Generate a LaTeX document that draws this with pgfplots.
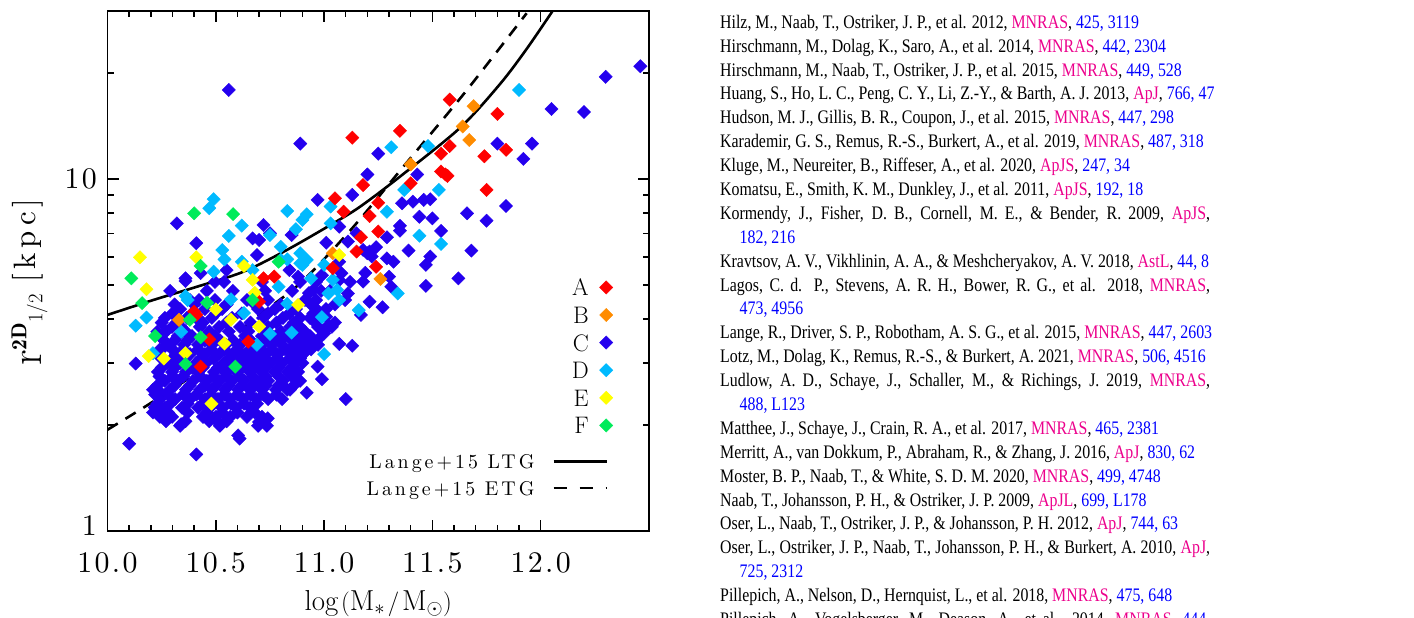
\documentclass[border=0pt]{standalone}
\usepackage{fontspec}
\usepackage{xcolor}
\usepackage{pgfplots}
\pgfplotsset{compat=1.18}
\newfontfamily\reffont{Liberation Serif}[FakeStretch=0.83]
\newfontfamily\lmwide{lmroman10-regular.otf}[LetterSpace=15]
\newfontfamily\lmtick{lmroman10-regular.otf}[LetterSpace=8]
\definecolor{cA}{RGB}{255,0,0}
\definecolor{cB}{RGB}{255,140,0}
\definecolor{cC}{RGB}{36,0,238}
\definecolor{cD}{RGB}{0,186,255}
\definecolor{cE}{RGB}{255,255,0}
\definecolor{cF}{RGB}{0,235,90}
\newcommand\J[1]{\textcolor{magenta}{#1}}
\newcommand\V[1]{\textcolor{blue}{#1}}
% one reference line: plain, justified to the column width, or a continuation
\newcommand\refline[2]{\node[anchor=base west,inner sep=0pt] at (720bp,{589.7bp-#1*23.89bp}) {\fontsize{19.2}{24}\reffont #2};}
\newcommand\refjust[2]{\node[anchor=base west,inner sep=0pt] at (720bp,{589.7bp-#1*23.89bp}) {\fontsize{19.2}{24}\reffont\hbox to 490bp{#2}};}
\newcommand\refcont[2]{\node[anchor=base west,inner sep=0pt] at (739.5bp,{589.7bp-#1*23.89bp}) {\fontsize{19.2}{24}\reffont #2};}
\pgfplotsset{dia/.style={only marks, mark=square*, mark size=4.7bp, mark options={rotate=45}}}
\begin{document}
\begin{tikzpicture}
\path[use as bounding box] (0bp,0bp) rectangle (1414bp,618bp);

\begin{axis}[
  at={(107.5bp,87bp)}, anchor=south west,
  width=541.5bp, height=520bp, scale only axis,
  xmin=10, xmax=12.5, ymin=1, ymax=30, ymode=log,
  axis on top,
  xtick={10,10.5,11,11.5,12}, xticklabels={10.0,10.5,11.0,11.5,12.0},
  minor x tick num=4,
  ytick={1,10}, yticklabels={\raisebox{10bp}{1},10},
  minor ytick={2,3,4,5,6,7,8,9,20},
  tick align=inside,
  major tick length=11bp, minor tick length=6.5bp,
  every tick/.style={black, line width=1.4bp},
  axis line style={black, line width=1.8bp},
  ticklabel style={font=\fontsize{30}{30}\lmtick, inner sep=0pt},
  xticklabel style={anchor=base, yshift=-41bp},
  yticklabel style={anchor=east, xshift=-10.5bp},
  xlabel={$\log\mkern2mu(\mathrm{M}_*\mkern2mu/\mkern2mu\mathrm{M}_\odot)$},
  xlabel style={at={(axis description cs:0.5,-0.1538)}, anchor=base, font=\fontsize{29}{29}\selectfont, inner sep=0pt},
  ylabel={\raisebox{-6bp}{\fontsize{44}{44}\selectfont$\mathrm{r}$}$^{\mathbf{2D}}{}_{1/2}$\hspace{0.35em}{\fontsize{31}{31}\lmwide[kpc]}},
  ylabel style={at={(axis description cs:-0.133,0.478)}, anchor=base, font=\fontsize{31}{31}\selectfont, inner sep=0pt},
  legend plot pos=right, legend cell align=right,
  legend style={at={(axis description cs:0.9332,0.4848)}, anchor=north east,
    draw=none, fill=none, inner sep=0pt, outer sep=0pt,
    font=\fontsize{24}{24}\selectfont, row sep=10.6bp, column sep=10.8bp,
    nodes={inner sep=0pt, text height=17bp, text depth=0pt}},
]
% C
\addplot[dia, cC, forget plot] coordinates {
(12.46,20.9)(12.30,19.5)(12.05,15.8)(12.20,15.5)(10.56,17.9)(10.89,12.6)(11.25,11.8)(11.80,12.6)(11.96,12.6)(11.92,11.4)
(11.43,10.3)(11.20,10.3)(11.36,8.53)(11.41,8.62)(11.46,8.72)(11.49,8.76)(11.84,8.38)(11.44,7.81)(11.50,7.73)(11.66,7.99)
(11.75,7.61)(11.35,7.36)(11.35,7.13)(11.29,6.83)(11.54,7.12)(11.39,6.26)(11.68,6.26)(11.24,6.40)(11.20,6.15)(11.22,6.02)
(11.29,5.95)(11.32,5.82)(11.49,6.02)(11.47,5.70)(11.62,5.22)(11.30,5.28)(11.31,4.94)(11.47,4.97)(11.19,5.41)(11.18,5.11)
(10.97,8.72)(11.13,9.01)(11.07,7.32)(10.72,7.40)(10.75,7.01)(10.70,6.71)(10.67,6.78)(10.85,6.93)(10.32,7.48)(10.41,6.57)
(10.55,5.51)(10.69,6.08)(11.01,6.59)(11.11,6.64)(11.15,7.01)(11.18,6.29)(11.21,6.22)(11.07,5.82)(10.36,5.22)(10.43,5.40)
(11.08,5.40)(11.11,4.73)(11.21,4.48)(11.27,4.32)(11.17,4.11)(10.95,4.84)(10.97,4.24)(11.01,4.06)(11.00,3.64)(11.07,3.40)
(11.13,3.36)(10.99,2.70)(11.10,2.37)(10.92,2.47)(10.74,2.09)(10.70,2.04)(10.61,1.83)(10.80,2.60)(10.83,2.52)(10.71,2.69)
(10.67,2.60)(10.86,2.81)(10.52,2.00)(10.50,2.07)(10.34,2.01)(10.10,1.77)(10.41,1.65)(10.24,2.18)(10.26,2.11)(10.22,2.25)
(10.24,2.49)(10.13,2.99)(10.23,3.68)(10.24,3.27)(10.36,5.13)(11.07,5.16)(10.99,5.33)(10.84,5.51)(10.88,5.28)(10.93,4.74)
(11.02,3.84)(10.94,3.55)(10.97,3.49)(10.84,3.27)(10.89,3.12)(10.92,3.27)(10.90,3.00)(10.97,2.93)
(10.496,5.10)(10.538,5.10)(10.713,5.10)(10.889,5.10)(10.963,5.10)(11.120,5.10)
(10.289,4.81)(10.459,4.81)(10.579,4.81)(10.727,4.81)(10.852,4.81)(10.986,4.81)(11.027,4.81)
(10.381,4.53)(10.422,4.53)(10.496,4.53)(10.644,4.53)(10.741,4.53)(10.912,4.53)(10.963,4.53)(11.097,4.53)
(10.31,4.40)(10.40,4.40)(10.55,4.40)(10.68,4.40)(10.80,4.40)(10.94,4.40)(11.05,4.40)
(10.335,4.27)(10.450,4.27)(10.529,4.27)(10.695,4.27)(10.773,4.27)(10.870,4.27)(11.009,4.27)
(10.30,4.15)(10.39,4.15)(10.50,4.15)(10.62,4.15)(10.74,4.15)(10.84,4.15)(10.95,4.15)
(10.265,4.03)(10.367,4.03)(10.409,4.03)(10.482,4.03)(10.575,4.03)(10.718,4.03)(10.810,4.03)(10.889,4.03)(10.935,4.03)
(10.25,3.91)(10.32,3.91)(10.44,3.91)(10.55,3.91)(10.66,3.91)(10.78,3.91)(10.86,3.91)(10.96,3.91)(11.05,3.91)
(10.298,3.80)(10.339,3.80)(10.427,3.80)(10.515,3.80)(10.612,3.80)(10.741,3.80)(10.843,3.80)(10.889,3.80)(10.972,3.80)(11.036,3.80)
(10.27,3.69)(10.36,3.69)(10.47,3.69)(10.56,3.69)(10.65,3.69)(10.74,3.69)(10.80,3.69)(10.86,3.69)(10.91,3.69)(11.00,3.69)
(10.242,3.58)(10.325,3.58)(10.390,3.58)(10.455,3.58)(10.496,3.58)(10.635,3.58)(10.713,3.58)(10.778,3.58)(10.820,3.58)(10.889,3.58)(10.935,3.58)
(10.26,3.48)(10.31,3.48)(10.37,3.48)(10.45,3.48)(10.52,3.48)(10.58,3.48)(10.66,3.48)(10.74,3.48)(10.79,3.48)(10.85,3.48)(10.90,3.48)(10.95,3.48)
(10.279,3.38)(10.353,3.38)(10.418,3.38)(10.482,3.38)(10.547,3.38)(10.612,3.38)(10.713,3.38)(10.759,3.38)(10.806,3.38)(10.870,3.38)(10.916,3.38)(10.972,3.38)
(10.25,3.28)(10.30,3.28)(10.35,3.28)(10.42,3.28)(10.48,3.28)(10.54,3.28)(10.60,3.28)(10.66,3.28)(10.71,3.28)(10.76,3.28)(10.82,3.28)(10.88,3.28)(10.94,3.28)
(10.316,3.18)(10.381,3.18)(10.450,3.18)(10.515,3.18)(10.575,3.18)(10.635,3.18)(10.681,3.18)(10.732,3.18)(10.787,3.18)(10.852,3.18)(10.903,3.18)
(10.25,3.09)(10.30,3.09)(10.36,3.09)(10.43,3.09)(10.49,3.09)(10.56,3.09)(10.61,3.09)(10.67,3.09)(10.72,3.09)(10.78,3.09)(10.84,3.09)(10.89,3.09)
(10.275,3.00)(10.335,3.00)(10.409,3.00)(10.455,3.00)(10.538,3.00)(10.593,3.00)(10.649,3.00)(10.695,3.00)(10.750,3.00)(10.806,3.00)(10.866,3.00)
(10.25,2.91)(10.31,2.91)(10.39,2.91)(10.44,2.91)(10.51,2.91)(10.57,2.91)(10.62,2.91)(10.68,2.91)(10.73,2.91)(10.79,2.91)(10.85,2.91)
(10.233,2.83)(10.298,2.83)(10.362,2.83)(10.418,2.83)(10.492,2.83)(10.542,2.83)(10.598,2.83)(10.658,2.83)(10.713,2.83)(10.773,2.83)(10.833,2.83)(10.880,2.83)
(10.24,2.75)(10.30,2.75)(10.35,2.75)(10.43,2.75)(10.49,2.75)(10.55,2.75)(10.61,2.75)(10.67,2.75)(10.73,2.75)(10.79,2.75)(10.85,2.75)
(10.265,2.67)(10.325,2.67)(10.395,2.67)(10.459,2.67)(10.519,2.67)(10.575,2.67)(10.630,2.67)(10.686,2.67)(10.741,2.67)(10.810,2.67)(10.889,2.67)
(10.23,2.59)(10.31,2.59)(10.38,2.59)(10.45,2.59)(10.50,2.59)(10.56,2.59)(10.62,2.59)(10.68,2.59)(10.73,2.59)(10.79,2.59)(10.86,2.59)
(10.210,2.52)(10.289,2.52)(10.362,2.52)(10.427,2.52)(10.482,2.52)(10.542,2.52)(10.603,2.52)(10.658,2.52)(10.713,2.52)(10.778,2.52)(10.843,2.52)
(10.22,2.44)(10.28,2.44)(10.35,2.44)(10.41,2.44)(10.48,2.44)(10.54,2.44)(10.60,2.44)(10.66,2.44)(10.72,2.44)(10.78,2.44)
(10.242,2.37)(10.312,2.37)(10.381,2.37)(10.450,2.37)(10.510,2.37)(10.566,2.37)(10.626,2.37)(10.686,2.37)(10.741,2.37)(10.806,2.37)
(10.23,2.30)(10.29,2.30)(10.37,2.30)(10.44,2.30)(10.51,2.30)(10.57,2.30)(10.63,2.30)(10.69,2.30)
(10.219,2.24)(10.265,2.24)(10.344,2.24)(10.418,2.24)(10.473,2.24)(10.533,2.24)(10.593,2.24)(10.658,2.24)
(10.21,2.17)(10.28,2.17)(10.37,2.17)(10.46,2.17)(10.53,2.17)(10.60,2.17)(10.68,2.17)
(10.242,2.11)(10.298,2.11)(10.441,2.11)(10.501,2.11)(10.566,2.11)(10.644,2.11)(10.713,2.11)
(10.27,2.05)(10.36,2.05)(10.47,2.05)(10.55,2.05)(10.72,2.05)
(10.335,1.99)(10.519,1.99)(10.695,1.99)(10.736,1.99)(10.603,1.87)
};
% D
\addplot[dia, cD, forget plot] coordinates {
(11.90,17.9)(11.31,12.3)(11.48,12.4)(11.37,9.31)(11.53,9.31)(11.29,8.07)(11.44,6.90)(11.54,6.54)(11.34,4.73)(11.03,8.35)
(10.49,8.76)(10.47,8.26)(10.83,8.11)(10.92,7.94)(10.62,7.37)(10.56,6.89)(10.87,7.20)(10.53,6.28)(10.54,5.91)(10.62,5.82)
(10.83,5.91)(10.89,5.76)(10.92,5.89)(10.80,6.42)(11.03,7.48)(10.49,5.45)(11.04,5.17)(11.07,4.53)(11.06,4.84)(11.02,4.73)
(11.00,5.70)(10.94,5.22)(10.83,4.42)(11.16,4.24)(10.99,4.05)(11.00,3.18)(10.75,3.63)(10.85,3.66)(10.69,3.38)(10.75,6.93)
(10.90,7.65)(10.79,4.94)(10.63,4.16)(10.18,4.04)(10.13,3.83)(10.34,3.68)(10.21,3.20)(10.57,4.55)(10.89,6.15)(10.90,5.70)
(10.80,5.89)(10.37,4.53)(10.36,4.65)(10.67,5.51)
};
% A
\addplot[dia, cA, forget plot] coordinates {
(11.58,16.8)(11.80,15.3)(11.35,13.7)(11.13,13.1)(11.58,12.4)(11.54,11.8)(11.84,12.1)(11.74,11.6)(11.54,10.5)(11.57,10.2)
(11.56,10.3)(11.40,9.72)(11.18,9.61)(11.75,9.31)(11.25,8.56)(11.21,7.85)(11.25,7.09)(11.17,6.83)(11.24,5.63)(11.05,8.81)
(11.09,8.07)(11.15,6.22)(11.04,5.58)(10.72,5.22)(10.77,5.28)(10.70,4.48)(10.65,3.45)(10.40,4.20)(10.41,4.11)(10.47,3.50)
(10.43,2.93)
};
% B
\addplot[dia, cB, forget plot] coordinates {
(11.67,12.9)(11.69,16.1)(11.64,14.1)(11.40,11.0)(11.26,5.20)(11.04,6.15)(10.33,3.98)
};
% E
\addplot[dia, cE, forget plot] coordinates {
(10.15,5.99)(10.41,5.99)(10.18,4.86)(10.19,3.14)(10.26,3.09)(10.36,3.20)(10.50,4.26)(10.57,3.98)(10.54,3.41)(10.67,5.17)
(10.68,4.75)(10.70,3.81)(10.88,4.39)(11.07,6.08)(10.48,2.30)(10.63,5.66)
};
% F
\addplot[dia, cF, forget plot] coordinates {
(10.11,5.22)(10.40,7.99)(10.58,7.95)(10.43,5.66)(10.79,5.82)(10.16,4.44)(10.38,3.98)(10.22,3.58)(10.43,3.55)(10.36,2.98)
(10.46,4.45)(10.67,4.53)(10.59,2.93)
};
% Lange+15 relations, each with a white border
\addplot[white, line width=7bp, smooth, forget plot] coordinates {
(10.000,4.11)(10.211,4.53)(10.412,4.94)(10.627,5.45)(10.827,6.28)(11.042,7.48)(11.166,8.34)(11.350,10.15)(11.627,13.96)(11.812,18.6)(11.935,23.4)(12.058,30.2)};
\addplot[white, line width=7bp, smooth, forget plot] coordinates {
(10.000,1.94)(10.200,2.31)(10.427,2.87)(10.650,3.88)(10.889,5.05)(11.130,7.25)(11.366,10.84)(11.650,17.6)(11.935,29.56)};
\addplot[black, line width=2.6bp, smooth, forget plot] coordinates {
(10.000,4.11)(10.211,4.53)(10.412,4.94)(10.627,5.45)(10.827,6.28)(11.042,7.48)(11.166,8.34)(11.350,10.15)(11.627,13.96)(11.812,18.6)(11.935,23.4)(12.058,30.2)};
\addplot[black, line width=2.6bp, smooth, dash pattern=on 12bp off 9bp, forget plot] coordinates {
(10.000,1.94)(10.200,2.31)(10.427,2.87)(10.650,3.88)(10.889,5.05)(11.130,7.25)(11.366,10.84)(11.650,17.6)(11.935,29.56)};
\addlegendimage{dia, cA}\addlegendentry{A}
\addlegendimage{dia, cB}\addlegendentry{B}
\addlegendimage{dia, cC}\addlegendentry{C}
\addlegendimage{dia, cD}\addlegendentry{D}
\addlegendimage{dia, cE}\addlegendentry{E}
\addlegendimage{dia, cF}\addlegendentry{F}
\end{axis}

% legend of the two relations
\begin{axis}[
  at={(107.5bp,87bp)}, anchor=south west,
  width=541.5bp, height=520bp, scale only axis, hide axis,
  xmin=10, xmax=12.5, ymin=1, ymax=30, ymode=log,
  legend plot pos=right, legend cell align=right,
  legend image code/.code={\draw[#1] (0bp,0bp) -- (53bp,0bp);},
  legend style={at={(axis description cs:0.9243,0.1471)}, anchor=north east,
    draw=none, fill=none, inner sep=0pt, outer sep=0pt,
    font=\fontsize{20}{20}\lmwide, row sep=12.6bp, column sep=18bp,
    nodes={inner sep=0pt, text height=14bp, text depth=0pt}},
]
\addlegendimage{black, line width=2.6bp}
\addlegendentry{Lange+15 LTG}
\addlegendimage{black, line width=2.6bp, dash pattern=on 13bp off 13bp}
\addlegendentry{Lange+15 ETG}
\end{axis}

% reference list
\refline{0}{Hilz, M., Naab, T., Ostriker, J. P., et al. 2012, \J{MNRAS}, \V{425, 3119}}
\refline{1}{Hirschmann, M., Dolag, K., Saro, A., et al. 2014, \J{MNRAS}, \V{442, 2304}}
\refline{2}{Hirschmann, M., Naab, T., Ostriker, J. P., et al. 2015, \J{MNRAS}, \V{449, 528}}
\refline{3}{Huang, S., Ho, L. C., Peng, C. Y., Li, Z.-Y., \& Barth, A. J. 2013, \J{ApJ}, \V{766, 47}}
\refline{4}{Hudson, M. J., Gillis, B. R., Coupon, J., et al. 2015, \J{MNRAS}, \V{447, 298}}
\refline{5}{Karademir, G. S., Remus, R.-S., Burkert, A., et al. 2019, \J{MNRAS}, \V{487, 318}}
\refline{6}{Kluge, M., Neureiter, B., Riffeser, A., et al. 2020, \J{ApJS}, \V{247, 34}}
\refline{7}{Komatsu, E., Smith, K. M., Dunkley, J., et al. 2011, \J{ApJS}, \V{192, 18}}
\refjust{8}{Kormendy, J., Fisher, D. B., Cornell, M. E., \& Bender, R. 2009, \J{ApJS},}
\refcont{9}{\V{182, 216}}
\refline{10}{Kravtsov, A. V., Vikhlinin, A. A., \& Meshcheryakov, A. V. 2018, \J{AstL}, \V{44, 8}}
\refjust{11}{Lagos, C. d. P., Stevens, A. R. H., Bower, R. G., et al. 2018, \J{MNRAS},}
\refcont{12}{\V{473, 4956}}
\refline{13}{Lange, R., Driver, S. P., Robotham, A. S. G., et al. 2015, \J{MNRAS}, \V{447, 2603}}
\refline{14}{Lotz, M., Dolag, K., Remus, R.-S., \& Burkert, A. 2021, \J{MNRAS}, \V{506, 4516}}
\refjust{15}{Ludlow, A. D., Schaye, J., Schaller, M., \& Richings, J. 2019, \J{MNRAS},}
\refcont{16}{\V{488, L123}}
\refline{17}{Matthee, J., Schaye, J., Crain, R. A., et al. 2017, \J{MNRAS}, \V{465, 2381}}
\refline{18}{Merritt, A., van Dokkum, P., Abraham, R., \& Zhang, J. 2016, \J{ApJ}, \V{830, 62}}
\refline{19}{Moster, B. P., Naab, T., \& White, S. D. M. 2020, \J{MNRAS}, \V{499, 4748}}
\refline{20}{Naab, T., Johansson, P. H., \& Ostriker, J. P. 2009, \J{ApJL}, \V{699, L178}}
\refline{21}{Oser, L., Naab, T., Ostriker, J. P., \& Johansson, P. H. 2012, \J{ApJ}, \V{744, 63}}
\refjust{22}{Oser, L., Ostriker, J. P., Naab, T., Johansson, P. H., \& Burkert, A. 2010, \J{ApJ},}
\refcont{23}{\V{725, 2312}}
\refline{24}{Pillepich, A., Nelson, D., Hernquist, L., et al. 2018, \J{MNRAS}, \V{475, 648}}
\refjust{25}{Pillepich, A., Vogelsberger, M., Deason, A., et al. 2014, \J{MNRAS}, \V{444,}}
\end{tikzpicture}
\end{document}
